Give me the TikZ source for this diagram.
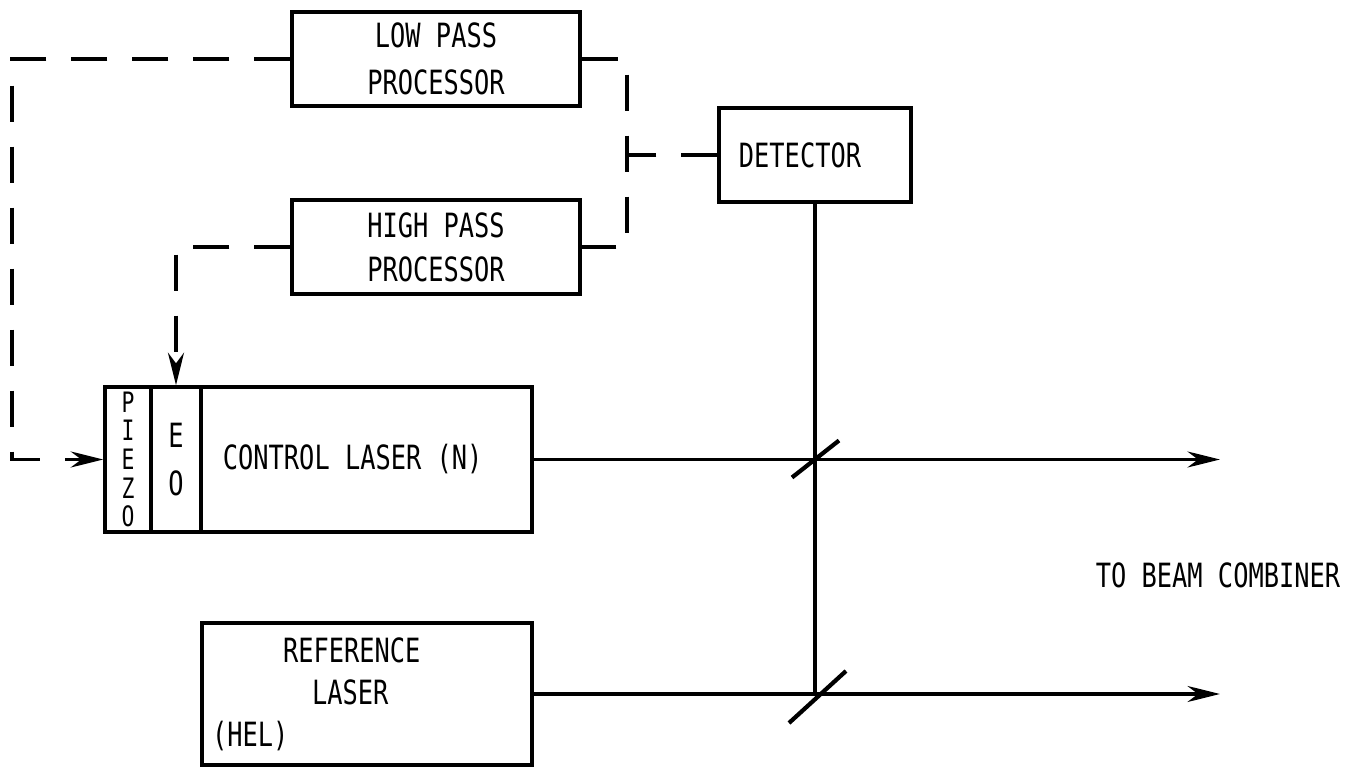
\documentclass[tikz,border=0pt]{standalone}
\usepackage{fontspec}
\setmainfont{DejaVu Sans Mono}[FakeStretch=0.76]
\usetikzlibrary{positioning,arrows.meta}

\begin{document}
\begin{tikzpicture}[x=0.02cm,y=-0.02cm,
                    every node/.style={font=\fontsize{19}{24}\selectfont},
                    box/.style={draw,line width=2pt,inner sep=0pt,align=center,
                                minimum height=1.88cm},
                    sig/.style={line width=2pt,dash pattern=on 0.72cm off 0.5cm},
                    beam/.style={line width=1.8pt},
                    tip/.style={-{Stealth[length=6.5mm,width=3.2mm]}},
                    split/.style={line width=2.4pt}]
\useasboundingbox (0,0) rectangle (1370,773);
\node[box,minimum width=5.76cm,font=\fontsize{19}{27}\selectfont] (LP) at (436,59) {LOW PASS\\PROCESSOR};
\node[box,minimum width=5.76cm,font=\fontsize{19}{25}\selectfont] (HP) at (436,247) {HIGH PASS\\PROCESSOR};
\node[box,minimum width=3.84cm] (DET) at (815,155) {DETECTOR\hspace*{0.6cm}};
\node[box,minimum width=0.92cm,minimum height=2.9cm,
      font=\fontsize{16}{16.3}\selectfont] (PZ) at (128,459.5) {P\\I\\E\\Z\\O};
\node[box,right=-2pt of PZ,minimum width=1cm,minimum height=2.9cm,
      font=\fontsize{19}{27}\selectfont] (EO) {E\\O};
\node[box,right=-2pt of EO,minimum width=6.62cm,minimum height=2.9cm] (CL) {CONTROL LASER (N)\hspace*{0.55cm}};
\node[box,minimum width=6.6cm,minimum height=2.84cm,align=left,text width=6.2cm]
      (REF) at (367,694) {\hspace*{1.42cm}REFERENCE\\\hspace*{2.0cm}LASER\\(HEL)};
\node (TBC) at (1218,575) {TO BEAM COMBINER};
\coordinate (BS1) at (DET.south |- CL.east);
\coordinate (BS2) at (DET.south |- REF.east);
\coordinate (OUT1) at (1220,459.5);
\coordinate (OUT2) at (1220,694);
\coordinate (BUS) at (627,155);
\coordinate (LEFT) at (12,300);
% beams
\draw[beam] (DET.south) -- (BS2);
\draw[beam,tip] (CL.east) -- (OUT1);
\draw[beam,tip] (REF.east) -- (OUT2);
\draw[split] ([shift={(-23,18)}]BS1) -- ([shift={(24,-19)}]BS1);
\draw[split] ([shift={(-26,29)}]BS2) -- ([shift={(31,-23)}]BS2);
% feedback
\draw[sig] (LP.east) -| (BUS) |- (HP.east);
\draw[sig] (DET.west) -- (BUS);
\draw[sig,tip] (HP.west) -| (EO.north);
\draw[sig,tip] (LP.west) -| (LEFT) |- (PZ.west);
\end{tikzpicture}
\end{document}
